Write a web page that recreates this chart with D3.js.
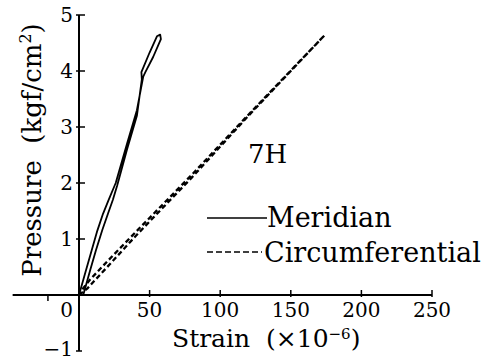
<!DOCTYPE html>
<html>
<head>
<meta charset="utf-8">
<script src="https://cdn.jsdelivr.net/npm/d3@7"></script>
<style>
  body { margin: 0; background: #fff; }
  text { font-family: "DejaVu Serif", serif; fill: #000; white-space: pre; }
</style>
</head>
<body>
<svg id="chart" width="494" height="362"></svg>
<script>
// strain (x10^-6) vs pressure (kgf/cm2)
const meridianStrain = [3, 8, 12, 16.5, 20.5, 24, 27, 34, 41, 44.5, 44.2, 50, 55.2, 57.5, 58, 52.5, 47, 45.5, 41, 34, 26, 21, 17, 13, 9, 4.5, 0];
const meridianPressure = [0, 0.45, 0.8, 1.16, 1.45, 1.7, 1.95, 2.6, 3.2, 3.85, 3.98, 4.33, 4.62, 4.65, 4.57, 4.25, 3.98, 3.9, 3.3, 2.7, 2.0, 1.7, 1.45, 1.15, 0.8, 0.4, 0];
const circStrain = [0, 6, 20, 40, 80, 120, 174, 120, 80, 40, 20, 8, 3, 0];
const circPressure = [0, 0.12, 0.5, 1.05, 2.1, 3.2, 4.64, 3.22, 2.15, 1.12, 0.6, 0.28, 0.12, 0];
const xTicks = [0, 50, 100, 150, 200, 250];
const yTicks = [-1, 0, 1, 2, 3, 4, 5];

const svg = d3.select("#chart");
const x = d3.scaleLinear().domain([0, 250]).range([79, 432]);
const y = d3.scaleLinear().domain([0, 5]).range([295, 15]);

const axes = svg.append("g").attr("stroke", "#000").attr("stroke-width", 2);
axes.append("line").attr("x1", x(-47)).attr("x2", x(250)).attr("y1", y(0)).attr("y2", y(0));
axes.append("line").attr("x1", x(0)).attr("x2", x(0)).attr("y1", y(-1)).attr("y2", y(5));

// x ticks
axes.selectAll(".xt")
  .data(xTicks.filter((d) => d > 0))
  .enter()
  .append("line")
  .attr("stroke-width", 1.5)
  .attr("x1", (d) => x(d)).attr("x2", (d) => x(d))
  .attr("y1", y(0) - 5).attr("y2", y(0) + 2);
axes.append("line").attr("stroke-width", 1.5)
  .attr("x1", x(-22)).attr("x2", x(-22)).attr("y1", y(0)).attr("y2", y(0) + 6);
// y ticks
axes.selectAll(".yt")
  .data(yTicks.filter((d) => d > 0))
  .enter()
  .append("line")
  .attr("stroke-width", 1.5)
  .attr("x1", x(0) - 3).attr("x2", x(0) + 6)
  .attr("y1", (d) => y(d)).attr("y2", (d) => y(d));
axes.append("line").attr("stroke-width", 1.5)
  .attr("x1", x(0) - 3).attr("x2", x(0) + 3).attr("y1", y(-1)).attr("y2", y(-1));

svg.append("g")
  .selectAll("text")
  .data(xTicks.filter((d) => d > 0))
  .enter()
  .append("text")
  .attr("x", (d) => x(d))
  .attr("y", 317)
  .attr("text-anchor", "middle")
  .style("font-size", "20px")
  .text((d) => d);

svg.append("g")
  .selectAll("text")
  .data(yTicks.filter((d) => d > 0))
  .enter()
  .append("text")
  .attr("x", 73)
  .attr("y", (d) => y(d) + 7)
  .attr("text-anchor", "end")
  .style("font-size", "20px")
  .text((d) => d);

svg.append("text").attr("x", 73).attr("y", 317).attr("text-anchor", "end")
  .style("font-size", "20px").text("0");
svg.append("text").attr("x", 73).attr("y", 356).attr("text-anchor", "end")
  .style("font-size", "20px").text("\u22121");

// series
const line = d3.line().x((d) => x(d[0])).y((d) => y(d[1]));
svg.append("path")
  .datum(d3.zip(meridianStrain, meridianPressure))
  .attr("d", line)
  .attr("fill", "none")
  .attr("stroke", "#000")
  .attr("stroke-width", 1.8)
  .attr("stroke-linejoin", "round");
svg.append("path")
  .datum(d3.zip(circStrain, circPressure))
  .attr("d", line)
  .attr("fill", "none")
  .attr("stroke", "#000")
  .attr("stroke-width", 2.3)
  .attr("stroke-dasharray", "5,3");

// annotation + legend
svg.append("text").attr("x", 248).attr("y", 163).style("font-size", "26px").text("7H");

svg.append("line").attr("x1", 207).attr("x2", 267).attr("y1", 218).attr("y2", 218)
  .attr("stroke", "#000").attr("stroke-width", 1.6);
svg.append("text").attr("x", 267).attr("y", 227).style("font-size", "27px").text("Meridian");
svg.append("line").attr("x1", 207).attr("x2", 262).attr("y1", 252).attr("y2", 252)
  .attr("stroke", "#000").attr("stroke-width", 1.6).attr("stroke-dasharray", "6,3");
svg.append("text").attr("x", 264).attr("y", 262).style("font-size", "27px").text("Circumferential");

// axis titles
const xt = svg.append("text").attr("x", 172).attr("y", 347).style("font-size", "25px");
xt.append("tspan").text("Strain  (\u00d710");
xt.append("tspan").attr("dy", -8).style("font-size", "15px").text("\u22126");
xt.append("tspan").attr("dy", 8).text(")");

const yt = svg.append("text")
  .attr("transform", "translate(41,150) rotate(-90)")
  .attr("text-anchor", "middle")
  .style("font-size", "26px");
yt.append("tspan").text("Pressure  (kgf/cm");
yt.append("tspan").attr("dy", -10).style("font-size", "16px").text("2");
yt.append("tspan").attr("dy", 10).text(")");
</script>
</body>
</html>
